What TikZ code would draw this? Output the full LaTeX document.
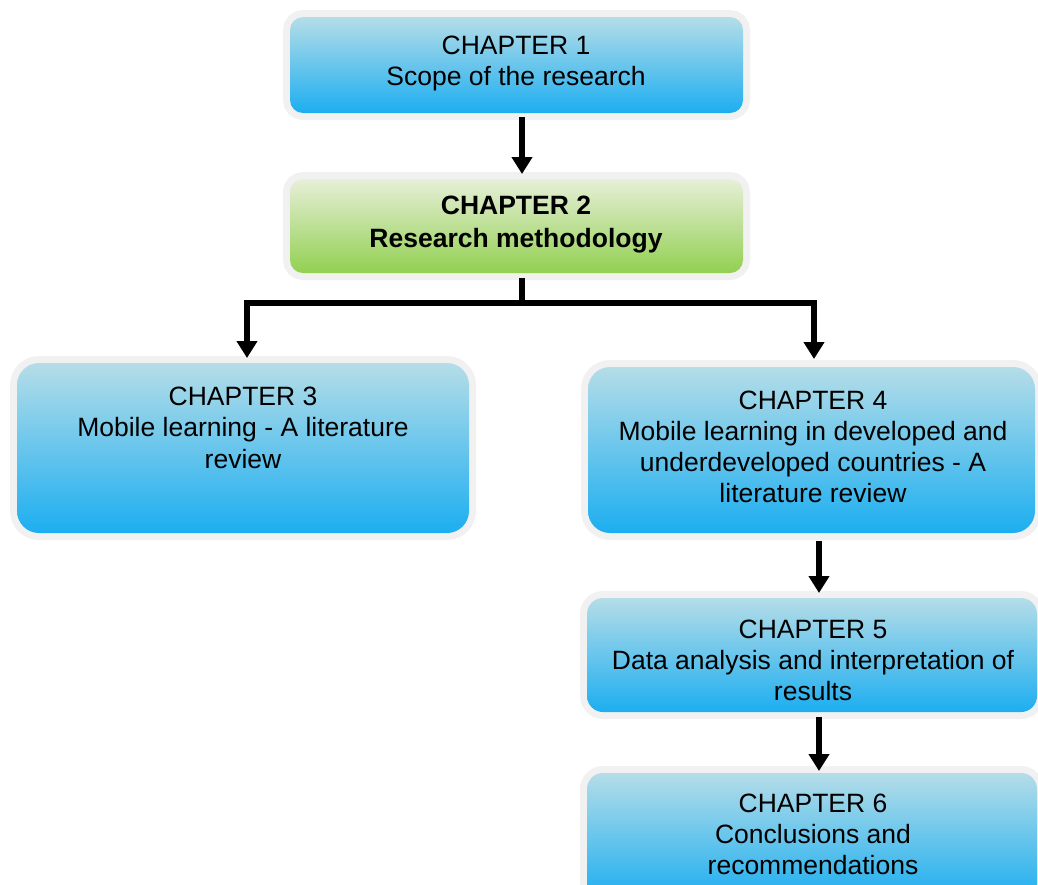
\documentclass[tikz,border=0pt]{standalone}
\usepackage{fontspec}
\setmainfont{Liberation Sans}
\usetikzlibrary{arrows.meta}

\definecolor{framegray}{RGB}{241,241,241}
\definecolor{bluetop}{RGB}{181,221,232}
\definecolor{bluemid}{RGB}{140,204,234}
\definecolor{bluebot}{RGB}{28,174,240}
\definecolor{greentop}{RGB}{231,239,217}
\definecolor{greenmid}{RGB}{190,225,150}
\definecolor{greenbot}{RGB}{146,208,80}

\tikzset{
  chapframe/.style={rectangle, rounded corners=#1, inner sep=0pt, outer sep=0pt,
    preaction={draw=framegray, line width=14pt}},
  bluebox/.style={chapframe=#1, top color=bluetop, middle color=bluemid, bottom color=bluebot},
  greenbox/.style={chapframe=#1, top color=greentop, middle color=greenmid, bottom color=greenbot},
  chaptext/.style={align=center, inner sep=0pt, font=\fontsize{26.5}{31}\selectfont},
  flow/.style={line width=6pt, -{Triangle[length=17pt,width=20pt]}},
  plainline/.style={line width=6pt}
}

\begin{document}
\begin{tikzpicture}[x=1pt,y=-1pt]
\useasboundingbox (0,0) rectangle (1038,884);
\clip (0,0) rectangle (1038,884);

% chapter boxes
\node[bluebox=13pt, minimum width=453pt, minimum height=96pt] (c1) at (516.5,65) {};
\node[greenbox=13pt, minimum width=453pt, minimum height=94pt] (c2) at (516.5,226) {};
\node[bluebox=22pt, minimum width=452pt, minimum height=170pt] (c3) at (243,448) {};
\node[bluebox=22pt, minimum width=447pt, minimum height=166pt] (c4) at (811.5,450) {};
\node[bluebox=16pt, minimum width=450pt, minimum height=114pt] (c5) at (812,655) {};
\node[bluebox=16pt, minimum width=450pt, minimum height=127pt] (c6) at (812,836.5) {};

% chapter titles
\node[chaptext] (t1) at (516,63) {CHAPTER 1\\Scope of the research};
\node[chaptext, font=\fontsize{26.5}{33}\selectfont\bfseries] (t2) at (516,224.5) {CHAPTER 2\\Research methodology};
\node[chaptext, font=\fontsize{26.5}{31.5}\selectfont] (t3) at (243,427.5) {CHAPTER 3\\Mobile learning - A literature\\review};
\node[chaptext] (t4) at (813,446.5) {CHAPTER 4\\Mobile learning in developed and\\underdeveloped countries - A\\literature review};
\node[chaptext] (t5) at (813,660) {CHAPTER 5\\Data analysis and interpretation of\\results};
\node[chaptext] (t6) at (813,834) {CHAPTER 6\\Conclusions and\\recommendations};

% connectors
\coordinate (j) at (522,303);
\coordinate (a3) at (247,358);
\coordinate (a4) at (814,359);

\draw[flow] ([xshift=5.5pt,yshift=-4pt]c1.south) -- ([xshift=5.5pt,yshift=5pt]c2.north);
\draw[plainline] ([xshift=5.5pt,yshift=-5pt]c2.south) -- (j);
\draw[flow] (j) -| (a3);
\draw[flow] (j) -| (a4);
\draw[flow] ([xshift=7.5pt,yshift=-8pt]c4.south) -- ([xshift=7pt,yshift=5pt]c5.north);
\draw[flow] ([xshift=7pt,yshift=-5pt]c5.south) -- ([xshift=7pt,yshift=2pt]c6.north);
\end{tikzpicture}
\end{document}
